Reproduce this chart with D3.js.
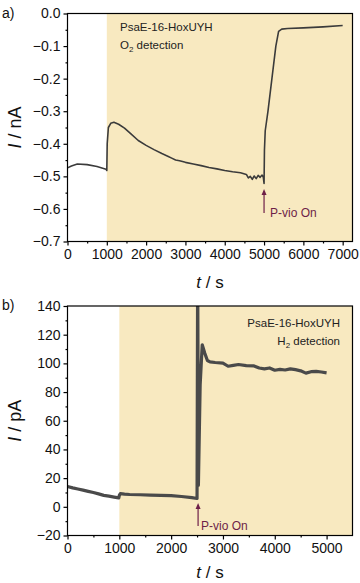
<!DOCTYPE html>
<html>
<head>
<meta charset="utf-8">
<script src="https://cdn.jsdelivr.net/npm/d3@7"></script>
<style>
  body { margin: 0; background: #fff; }
  svg { display: block; font-family: "Liberation Sans", Arial, sans-serif; }
</style>
</head>
<body>
<svg id="canvas" width="360" height="583"></svg>
<script>
// panel a: O2 detection, current in nA
let timeA = [0, 100, 250, 500, 750, 980, 1000, 1010, 1040, 1100, 1180, 1300, 1450, 1600, 1800, 2000, 2200, 2400, 2550, 2650, 2750, 2850, 3000, 3200, 3400, 3600, 3800, 4000, 4200, 4400, 4550, 4600, 4650, 4700, 4750, 4800, 4850, 4900, 4950, 4980, 5000, 5010, 5030, 5100, 5200, 5300, 5370, 5450, 5600, 6000, 6500, 7000]
let currentA = [-0.474, -0.468, -0.462, -0.464, -0.470, -0.478, -0.482, -0.40, -0.35, -0.337, -0.334, -0.340, -0.352, -0.368, -0.390, -0.405, -0.418, -0.430, -0.438, -0.444, -0.450, -0.452, -0.457, -0.462, -0.467, -0.473, -0.477, -0.482, -0.486, -0.489, -0.494, -0.505, -0.500, -0.509, -0.499, -0.507, -0.497, -0.503, -0.496, -0.502, -0.522, -0.42, -0.36, -0.30, -0.20, -0.10, -0.055, -0.048, -0.046, -0.044, -0.041, -0.037]
let xTicksA = [0, 1000, 2000, 3000, 4000, 5000, 6000, 7000]
let yTicksA = [0, -0.1, -0.2, -0.3, -0.4, -0.5, -0.6, -0.7]

// panel b: H2 detection, current in pA
let timeB = [0, 100, 200, 300, 400, 500, 600, 700, 800, 900, 990, 1000, 1020, 1100, 1200, 1400, 1600, 1800, 2000, 2200, 2400, 2500, 2512, 2526, 2560, 2600, 2650, 2700, 2750, 2850, 3000, 3100, 3200, 3300, 3450, 3600, 3700, 3800, 3900, 4000, 4100, 4200, 4300, 4400, 4500, 4600, 4700, 4800, 4900, 5000]
let currentB = [14.2, 13.2, 12.4, 11.6, 10.8, 10.0, 9.0, 8.0, 7.4, 6.8, 6.2, 8.0, 9.2, 8.8, 8.6, 8.4, 8.2, 8.0, 7.8, 7.2, 6.4, 5.8, 170, 15, 85, 113, 107, 102, 101, 100.6, 100.2, 98, 98.6, 99.2, 98.4, 98.2, 96.8, 96.2, 96.8, 95.2, 95.8, 95.4, 96.2, 95.6, 94.8, 93.2, 94.2, 94.4, 94.0, 93.4]
let xTicksB = [0, 1000, 2000, 3000, 4000, 5000]
let yTicksB = [140, 120, 100, 80, 60, 40, 20, 0, -20]

let shadeColor = '#f8e9c0'
let noteColor = '#6e1f48'

let canvas = d3.select('#canvas')

let drawPanel = (cfg) => {
    let x = d3.scaleLinear().domain(cfg.xDomain).range([cfg.left, cfg.right])
    let y = d3.scaleLinear().domain(cfg.yDomain).range([cfg.bottom, cfg.top])
    let g = canvas.append('g')

    g.append('clipPath').attr('id', cfg.id + '-clip')
     .append('rect')
     .attr('x', cfg.left).attr('y', cfg.top)
     .attr('width', cfg.right - cfg.left).attr('height', cfg.bottom - cfg.top)

    // light-on shading
    g.append('rect')
     .attr('x', x(cfg.shadeFrom))
     .attr('y', cfg.top)
     .attr('width', cfg.right - x(cfg.shadeFrom))
     .attr('height', cfg.bottom - cfg.top)
     .attr('fill', shadeColor)

    let line = d3.line().x(d => x(d[0])).y(d => y(d[1]))
    g.append('path')
     .datum(cfg.time.map((t, i) => [t, cfg.current[i]]))
     .attr('d', line)
     .attr('clip-path', 'url(#' + cfg.id + '-clip)')
     .attr('fill', 'none')
     .attr('stroke', cfg.lineColor)
     .attr('stroke-width', cfg.lineWidth)
     .attr('stroke-linejoin', 'round')

    // frame
    g.append('rect')
     .attr('x', cfg.left).attr('y', cfg.top)
     .attr('width', cfg.right - cfg.left).attr('height', cfg.bottom - cfg.top)
     .attr('fill', 'none').attr('stroke', '#000').attr('stroke-width', 1.2)

    let xAxis = g.append('g').attr('transform', 'translate(0,' + cfg.bottom + ')')
        .call(d3.axisBottom(x).tickValues(cfg.xTicks).tickSize(4).tickPadding(4).tickFormat(d3.format('d')))
    let xMinor = g.append('g').attr('transform', 'translate(0,' + cfg.bottom + ')')
        .call(d3.axisBottom(x).tickValues(d3.range(cfg.xDomain[0] + 500, cfg.xDomain[1], 1000)).tickSize(2).tickFormat(''))
    let yAxis = g.append('g').attr('transform', 'translate(' + cfg.left + ',0)')
        .call(d3.axisLeft(y).tickValues(cfg.yTicks).tickSize(4).tickPadding(3).tickFormat(cfg.yFormat))
    let yMinor = g.append('g').attr('transform', 'translate(' + cfg.left + ',0)')
        .call(d3.axisLeft(y).tickValues(cfg.yMinor).tickSize(2).tickFormat(''))

    ;[xAxis, xMinor, yAxis, yMinor].forEach(a => {
        a.select('.domain').remove()
        a.selectAll('line').attr('stroke', '#000').attr('stroke-width', 1.2)
        a.selectAll('text').attr('font-size', 14).attr('fill', '#111')
            .attr('font-family', '"Liberation Sans", Arial, sans-serif')
    })

    // axis titles
    let yt = g.append('text')
        .attr('transform', 'translate(' + 21 + ',' + ((cfg.top + cfg.bottom) / 2) + ') rotate(-90)')
        .attr('text-anchor', 'middle').attr('font-size', 18).attr('fill', '#111')
    yt.append('tspan').attr('font-style', 'italic').text('I')
    yt.append('tspan').text(' / ' + cfg.unit)

    let xt = g.append('text')
        .attr('x', (cfg.left + cfg.right) / 2).attr('y', cfg.xTitleY)
        .attr('text-anchor', 'middle').attr('font-size', 17).attr('fill', '#111')
    xt.append('tspan').attr('font-style', 'italic').text('t')
    xt.append('tspan').text(' / s')

    g.append('text').attr('x', 2).attr('y', cfg.top + 4)
        .attr('font-size', 14).attr('fill', '#111').text(cfg.letter)

    // sample / detection notes
    g.append('text').attr('x', cfg.noteX).attr('y', cfg.noteY)
        .attr('text-anchor', cfg.noteAnchor).attr('font-size', 11.5).attr('fill', '#222')
        .text('PsaE-16-HoxUYH')
    let n2 = g.append('text').attr('x', cfg.noteX).attr('y', cfg.noteY + 18)
        .attr('text-anchor', cfg.noteAnchor).attr('font-size', 11.5).attr('fill', '#222')
    n2.append('tspan').text(cfg.gas)
    n2.append('tspan').attr('font-size', 8).attr('dy', 3).text('2')
    n2.append('tspan').attr('dy', -3).text(' detection')

    // P-vio On arrow
    let ax = x(cfg.arrowT)
    g.append('line')
     .attr('x1', ax).attr('x2', ax)
     .attr('y1', cfg.arrowY1).attr('y2', cfg.arrowY2 + 4)
     .attr('stroke', noteColor).attr('stroke-width', 1.2)
    g.append('path')
     .attr('d', 'M' + (ax - 2.5) + ',' + (cfg.arrowY2 + 6) + ' L' + ax + ',' + cfg.arrowY2 + ' L' + (ax + 2.5) + ',' + (cfg.arrowY2 + 6) + ' Z')
     .attr('fill', noteColor)
    g.append('text').attr('x', ax + cfg.pvioDx).attr('y', cfg.arrowY1 + 4)
        .attr('font-size', 12).attr('fill', noteColor).text('P-vio On')
}

drawPanel({
    id: 'a', letter: 'a)', unit: 'nA', gas: 'O',
    left: 67.5, right: 352.5, top: 13.5, bottom: 241.5,
    xDomain: [0, 7250], yDomain: [-0.7, 0],
    xTicks: xTicksA, yTicks: yTicksA,
    yMinor: d3.range(-0.65, 0, 0.1),
    yFormat: d3.format('.1f'),
    time: timeA, current: currentA,
    lineColor: '#3b3b3b', lineWidth: 1.6,
    shadeFrom: 1000,
    xTitleY: 288,
    noteX: 120, noteY: 31, noteAnchor: 'start',
    arrowT: 5000, arrowY1: 213, arrowY2: 189, pvioDx: 6
})

drawPanel({
    id: 'b', letter: 'b)', unit: 'pA', gas: 'H',
    left: 67.5, right: 352.5, top: 306, bottom: 535.5,
    xDomain: [0, 5500], yDomain: [-20, 140],
    xTicks: xTicksB, yTicks: yTicksB,
    yMinor: d3.range(-10, 140, 20),
    yFormat: d3.format('d'),
    time: timeB, current: currentB,
    lineColor: '#4a4a4a', lineWidth: 3.2,
    shadeFrom: 1000,
    xTitleY: 578,
    noteX: 340, noteY: 326.5, noteAnchor: 'end',
    arrowT: 2520, arrowY1: 526, arrowY2: 503, pvioDx: 3
})
</script>
</body>
</html>
